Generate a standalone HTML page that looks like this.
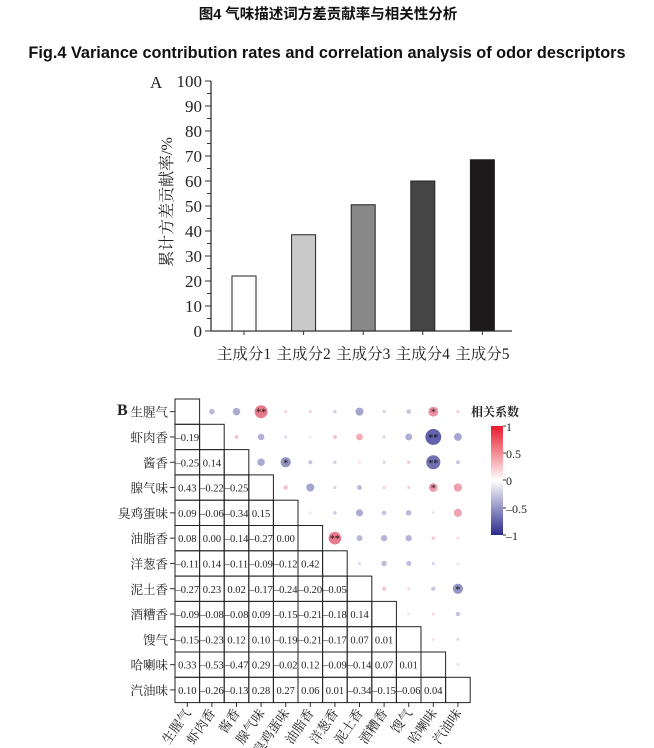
<!DOCTYPE html>
<html><head><meta charset="utf-8"><style>
body{margin:0;background:#fff;width:654px;height:748px;overflow:hidden}
svg{display:block}
.s{font-family:"Liberation Serif","Noto Serif CJK SC",serif}
</style></head><body>
<svg id="g" width="654" height="748" xmlns="http://www.w3.org/2000/svg">
<text x="328" y="19" text-anchor="middle" font-family="Liberation Sans,Noto Sans CJK SC,sans-serif" font-weight="bold" font-size="14.5" fill="#111">图4 气味描述词方差贡献率与相关性分析</text>
<text x="327" y="58" text-anchor="middle" font-family="Liberation Sans,sans-serif" font-weight="bold" font-size="16.3" fill="#111">Fig.4 Variance contribution rates and correlation analysis of odor descriptors</text>
<defs><linearGradient id="cb" x1="0" y1="0" x2="0" y2="1"><stop offset="0" stop-color="#e8192c"/><stop offset="0.5" stop-color="#fff"/><stop offset="1" stop-color="#2b2b8c"/></linearGradient></defs>
</svg>
<script>
var s=document.getElementById('g'),h='';
function t(x,y,str,sz,anc,extra){h+='<text class="s" x="'+x+'" y="'+y+'" font-size="'+sz+'" text-anchor="'+(anc||'start')+'" fill="#222" '+(extra||'')+'>'+str+'</text>';}
t(150,88,'A',17);
h+='<line x1="211" y1="81" x2="211" y2="331" stroke="#333" stroke-width="1.3"/><line x1="211" y1="331" x2="512" y2="331" stroke="#333" stroke-width="1.3"/>';
for(var v=0;v<=100;v+=5){var y=331-v*2.5;h+='<line x1="'+(v%10?207:205)+'" y1="'+y+'" x2="211" y2="'+y+'" stroke="#333"/>';if(v%10==0)t(202,y+6,v,17,'end');}
var vals=[22,38.5,50.5,60,68.5],cols=['#fff','#c9c9c9','#888','#454545','#1c1a1a'];
for(var i=0;i<5;i++){var x=232+i*59.6;h+='<rect x="'+x+'" y="'+(331-vals[i]*2.5)+'" width="24" height="'+vals[i]*2.5+'" fill="'+cols[i]+'" stroke="#222" stroke-width="1"/>';
h+='<line x1="'+(x+12)+'" y1="331" x2="'+(x+12)+'" y2="335" stroke="#333"/>';t(x+12,359,'主成分'+(i+1),15.5,'middle');}
t(0,0,'累计方差贡献率/%',16,'middle','transform="translate(172,202) rotate(-90)"');
var L=[[],[-0.19],[-0.25,0.14],[0.43,-0.22,-0.25],[0.09,-0.06,-0.34,0.15],[0.08,0.00,-0.14,-0.27,0.00],[-0.11,0.14,-0.11,-0.09,-0.12,0.42],[-0.27,0.23,0.02,-0.17,-0.24,-0.20,-0.05],[-0.09,-0.08,-0.08,0.09,-0.15,-0.21,-0.18,0.14],[-0.15,-0.23,0.12,0.10,-0.19,-0.21,-0.17,0.07,0.01],[0.33,-0.53,-0.47,0.29,-0.02,0.12,-0.09,-0.14,0.07,0.01],[0.10,-0.26,-0.13,0.28,0.27,0.06,0.01,-0.34,-0.15,-0.06,0.04]];
var names=['生腥气','虾肉香','酱香','腺气味','臭鸡蛋味','油脂香','洋葱香','泥土香','酒糟香','馊气','哈喇味','汽油味'];
var X0=175,Y0=399,W=24.6,H=25.3;
var stars={'0,3':'**','0,10':'*','1,10':'**','2,4':'*','2,10':'**','3,10':'*','5,6':'**','7,11':'*'};
function col(r){var a=Math.min(1,Math.abs(r)*1.3+0.1);return r>=0?'rgba(220,50,80,'+a+')':'rgba(55,55,150,'+a+')';}
t(117,415,'B',16,'start','font-weight="bold"');
for(var i=0;i<12;i++){var cy=Y0+i*H+H/2;
 t(168,cy+5,names[i],12.5,'end');h+='<line x1="170" y1="'+cy+'" x2="175" y2="'+cy+'" stroke="#333"/>';
 for(var j=0;j<=i;j++){h+='<rect x="'+(X0+j*W)+'" y="'+(Y0+i*H)+'" width="'+W+'" height="'+H+'" fill="none" stroke="#222" stroke-width="1"/>';
  if(j<i){var v=L[i][j];t(X0+j*W+W/2,cy+4,(v<0?'–':'')+Math.abs(v).toFixed(2),10.5,'middle');}}
 for(var j=i+1;j<12;j++){var r=L[j][i],cx=X0+j*W+W/2,rad=Math.max(1.6,Math.abs(r)*15);
  h+='<circle cx="'+cx+'" cy="'+cy+'" r="'+rad+'" fill="'+col(r)+'"/>';
  var st=stars[i+','+j];if(st)h+='<text x="'+cx+'" y="'+(cy+4)+'" font-size="10" text-anchor="middle" fill="#111">'+st+'</text>';}
}
for(var j=0;j<12;j++){var cx=X0+j*W+W/2;h+='<line x1="'+cx+'" y1="703" x2="'+cx+'" y2="707" stroke="#333"/>';
 t(0,0,names[j],13,'end','transform="translate('+(cx+4)+',713) rotate(-55)"');}
t(471,416,'相关系数',12,'start','font-weight="bold"');
h+='<rect x="491" y="426" width="12" height="109" fill="url(#cb)"/>';
var cl=[['1',426],['0.5',453],['0',480],['-0.5',508],['-1',535]];
cl.forEach(function(c){h+='<line x1="503" y1="'+c[1]+'" x2="506" y2="'+c[1]+'" stroke="#333"/>';t(506,c[1]+5,c[0].replace('-','–'),12);});
s.insertAdjacentHTML('beforeend',h);
</script>
</body></html>
